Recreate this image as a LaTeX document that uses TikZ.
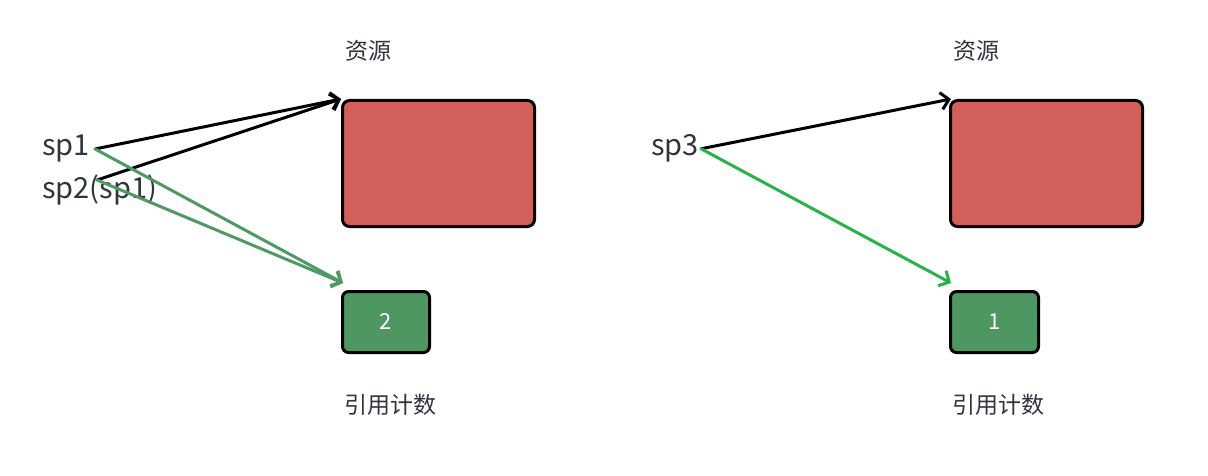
\documentclass[tikz,border=0pt]{standalone}
\usepackage{fontspec}
\newfontfamily\cjk{Noto Sans CJK SC}
\usetikzlibrary{arrows.meta,positioning,calc}
\definecolor{resred}{HTML}{D35F5B}
\definecolor{cntgreen}{HTML}{4E9662}
\definecolor{oldgreen}{HTML}{4F9A64}
\definecolor{newgreen}{HTML}{2AB24A}
\definecolor{txtgray}{HTML}{30353D}

\begin{document}
\begin{tikzpicture}[x=1pt,y=-1pt,font=\cjk,
   res/.style={draw=black,fill=resred,line width=3pt,rounded corners=7pt,
               minimum width=192pt,minimum height=126pt,inner sep=0pt},
   cnt/.style={draw=black,fill=cntgreen,line width=3pt,rounded corners=6pt,
               minimum width=87pt,minimum height=61pt,inner sep=0pt,
               text=white,font=\cjk\fontsize{22}{26}\selectfont},
   lbl/.style={text=txtgray,inner sep=0pt,font=\cjk\fontsize{23}{27}\selectfont},
   ptr/.style={text=txtgray,inner sep=0pt,anchor=base west,
               font=\cjk\fontsize{29}{34}\selectfont},
   link/.style={line width=3pt,line cap=round,
                -{Straight Barb[length=8pt,width=17pt,line width=3pt]}}]
  \useasboundingbox (0,0) rectangle (1208,476);

  % left: two pointers share one resource
  \node[res] (res1) at (438.5,163.5) {};
  \node[cnt] (cnt1) at (386,322) {2};
  \node[lbl] (res1lbl) at (368,51) {资源};
  \node[lbl] (cnt1lbl) at (390.5,405) {引用计数};
  \node[ptr] (sp1) at (42,156) {sp1};
  \node[ptr] (sp2) at (42,198) {sp2(sp1)};
  \coordinate (sp1out) at ($(sp1.east)+(5,0)$);
  \coordinate (sp2out) at (97,180);
  \draw[link,black] (sp1out) -- (res1.north west);
  \draw[link,black] (sp2out) -- (res1.north west);
  \draw[link,oldgreen] (sp1out) -- ($(cnt1.north west)+(2,-7)$);
  \draw[link,oldgreen] (sp2out) -- ($(cnt1.north west)+(2,-7)$);

  % right: one pointer
  \node[res] (res2) at (1046.5,163.5) {};
  \node[cnt,minimum width=88pt] (cnt2) at (994.5,322) {1};
  \node[lbl] (res2lbl) at (976,51) {资源};
  \node[lbl] (cnt2lbl) at (998.5,405) {引用计数};
  \node[ptr] (sp3) at (651,156) {sp3};
  \coordinate (sp3out) at ($(sp3.east)+(2,0)$);
  \draw[link,black] (sp3out) -- ($(res2.north west)+(2,0)$);
  \draw[link,newgreen] (sp3out) -- ($(cnt2.north west)+(2,-7)$);
\end{tikzpicture}
\end{document}
